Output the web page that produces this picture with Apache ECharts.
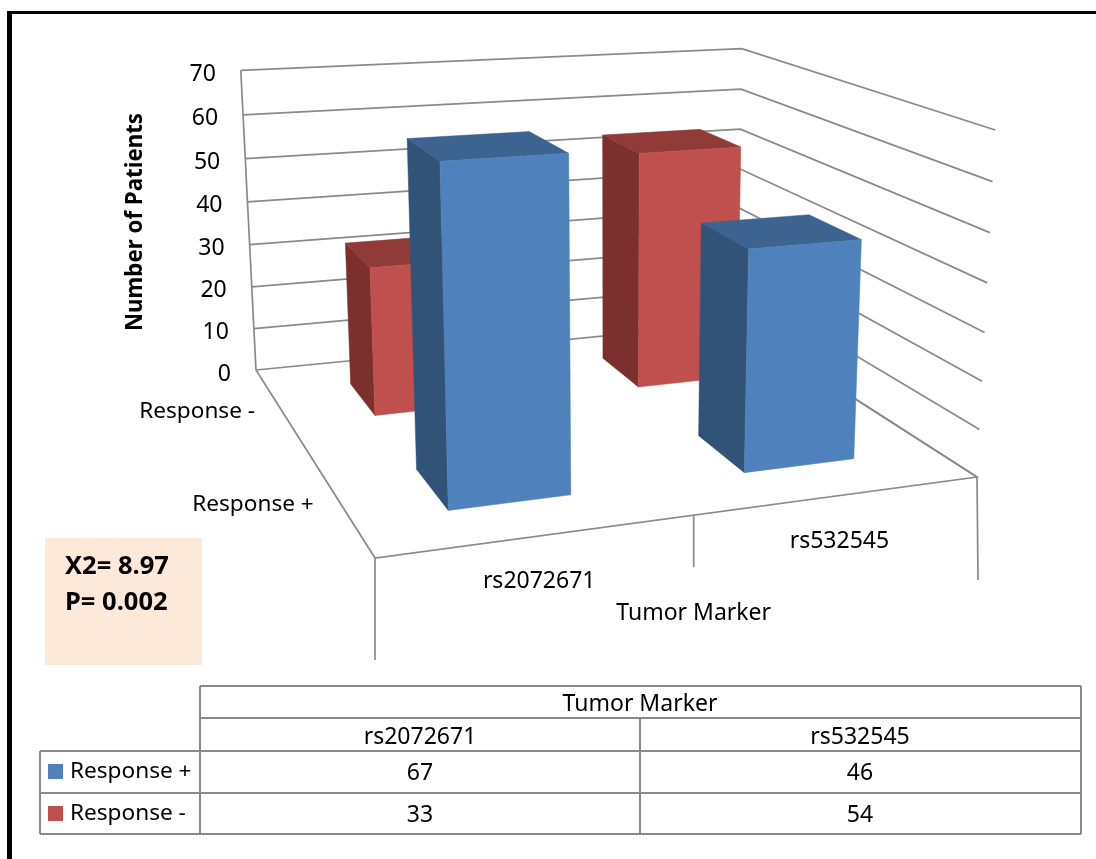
<!DOCTYPE html>
<html>
<head>
<meta charset="utf-8">
<title>Tumor Marker</title>
<style>
html,body{margin:0;padding:0;background:#fff;}
#main{width:1096px;height:859px;}
</style>
<script src="https://cdn.jsdelivr.net/npm/echarts@6/dist/echarts.min.js"></script>
</head>
<body>
<div id="main"></div>
<script>
var categories=["rs2072671","rs532545"];
var responsePlus=[67,46];
var responseMinus=[33,54];
var valueTicks=[0,10,20,30,40,50,60,70];
var rowNames=["Response -","Response +"];//back row first

var fontName='"Noto Sans",sans-serif';
var gridColor="#8a8a8a";
var gapRatio=0.4;//bar width as a part of its band (excel gap width 150%)

//camera of the 3d box, u: left to right, v: front to back, z: floor to top
var cam={a:724.1,b:-38.64,c:375,d:-21.39,e:-71.85,f:558,g:0.12497,h:0.31392,t:-0.0537,px:613,py:7400};
function project(u,v,z){
	var w=cam.g*u+cam.h*v+1+cam.t*z;
	return [
		(cam.a*u+cam.b*v+cam.c+cam.px*cam.t*z)/w,
		(cam.d*u+cam.e*v+cam.f+cam.py*cam.t*z)/w
	];
}
//height of a value on the hidden value axis, 0 to 1
function valueToZ(params,api,value){
	var box=params.coordSys;
	return (box.y+box.height-api.coord([0,value])[1])/box.height;
}
function face(points,color){
	return {type:"polygon",shape:{points:points},style:{fill:color,stroke:color,lineWidth:0.5}};
}
function line(points){
	return {type:"polyline",shape:{points:points},style:{fill:null,stroke:gridColor,lineWidth:1.7}};
}
function label(text,x,y,align,size,weight){
	return {type:"text",x:x,y:y,style:{text:text,fill:"#000",font:(weight||"normal")+" "+size+"px "+fontName,textAlign:align,textVerticalAlign:"middle"}};
}

//one row of bars, the row is placed in the depth like a band of a category axis
function barRenderer(rowIndex,colors){
	return function(params,api){
		var box=params.coordSys;
		var band=api.size([1,0])[0];
		var center=(api.coord([api.value(0),0])[0]-box.x)/box.width;
		var half=band/box.width*gapRatio/2;
		var rowBand=1/rowNames.length;
		var rowCenter=1-(rowIndex+0.5)*rowBand;
		var rowHalf=rowBand*gapRatio/2;
		var z=valueToZ(params,api,api.value(1));
		var u0=center-half,u1=center+half,v0=rowCenter-rowHalf,v1=rowCenter+rowHalf;
		return {type:"group",children:[
			face([project(u0,v1,0),project(u0,v0,0),project(u0,v0,z),project(u0,v1,z)],colors.side),
			face([project(u0,v0,z),project(u1,v0,z),project(u1,v1,z),project(u0,v1,z)],colors.top),
			face([project(u0,v0,0),project(u1,v0,0),project(u1,v0,z),project(u0,v0,z)],colors.front)
		]};
	};
}
//gridlines of the back and right walls with the value labels
function renderTick(params,api){
	var tick=api.value(1);
	var z=valueToZ(params,api,tick);
	var left=project(0,1,z);
	return {type:"group",children:[
		line([left,project(1,1,z),project(1,0,z)]),
		label(String(tick),left[0]-25,left[1]+4,"right",23)
	]};
}
//floor edges, left wall edge, drop lines and the labels that hang on them
function renderFloor(params,api){
	var children=[];
	children.push(line([project(0,1,1),project(0,1,0),project(0,0,0),project(1,0,0),project(1,1,0)]));
	var mid=project(0.5,0,0);
	var a=project(0,0,0),b=project(1,0,0);
	children.push(line([a,[a[0],a[1]+102]]));
	children.push(line([mid,[mid[0],mid[1]+52]]));
	children.push(line([b,[b[0]+1,b[1]+103]]));
	for(var i=0;i<categories.length;i++){
		var p=project((i+0.5)/categories.length,0,0);
		children.push(label(categories[i],p[0],p[1]+46,"center",23));
	}
	children.push(label("Tumor Marker",mid[0],mid[1]+98,"center",23));
	for(var r=0;r<rowNames.length;r++){
		var v=1-(r+0.5)/rowNames.length;
		var q=project(0,v,0);
		children.push(label(rowNames[r],q[0]-25,q[1]+4,"right",22.6));
	}
	return {type:"group",children:children};
}

//fixed page parts: frame, note box and the data table
function hLine(x1,x2,y){
	return {type:"line",shape:{x1:x1,y1:y,x2:x2,y2:y},style:{stroke:gridColor,lineWidth:2}};
}
function vLine(x,y1,y2){
	return {type:"line",shape:{x1:x,y1:y1,x2:x,y2:y2},style:{stroke:gridColor,lineWidth:2}};
}
function square(x,y,color){
	return {type:"rect",shape:{x:x,y:y,width:15,height:15},style:{fill:color}};
}
function buildGraphic(){
	var list=[
		{type:"rect",shape:{x:7,y:11,width:1089,height:3},style:{fill:"#000"}},
		{type:"rect",shape:{x:7,y:11,width:5,height:848},style:{fill:"#000"}},
		{type:"rect",shape:{x:45,y:538,width:157,height:127},style:{fill:"#fde9d9"}},
		label("X2= 8.97",65,567,"left",25.5,"bold"),
		label("P= 0.002",65,603,"left",25.5,"bold"),
		hLine(200,1081,686),hLine(200,1081,718),hLine(40,1081,751),hLine(40,1081,793),hLine(40,1081,834),
		vLine(40,751,834),vLine(200,686,834),vLine(640,718,834),vLine(1081,686,834),
		label("Tumor Marker",640,704,"center",23),
		square(48,764,"#4f81bd"),square(48,806,"#c0504d"),
		label("Response +",70,772,"left",22.6),
		label("Response -",70,814,"left",22.6)
	];
	var columns=[420,860];
	for(var i=0;i<categories.length;i++){
		list.push(label(categories[i],columns[i],737,"center",23));
		list.push(label(String(responsePlus[i]),columns[i],773,"center",23));
		list.push(label(String(responseMinus[i]),columns[i],815,"center",23));
	}
	return list;
}

function toRows(values){
	var rows=[];
	for(var i=0;i<values.length;i++){
		rows.push([i,values[i]]);
	}
	return rows;
}
var tickRows=[];
for(var t=0;t<valueTicks.length;t++){
	tickRows.push([0,valueTicks[t]]);
}

var myChart=echarts.init(document.getElementById("main"),null,{renderer:"canvas"});
myChart.setOption({
	animation:false,
	backgroundColor:"#fff",
	grid:{left:241,top:71,width:500,height:300},
	xAxis:{type:"category",data:categories,show:false},
	yAxis:{type:"value",min:0,max:70,interval:10,show:false,
		name:"Number of Patients"},
	graphic:{elements:buildGraphic().concat([
		{type:"text",x:136,y:222,rotation:Math.PI/2,style:{text:"Number of Patients",fill:"#000",
			font:"bold 22.3px "+fontName,textAlign:"center",textVerticalAlign:"middle"}}
	])},
	series:[
		{type:"custom",name:"floor",data:[[0,0]],encode:{x:0,y:1},renderItem:renderFloor,silent:true,z:1},
		{type:"custom",name:"ticks",data:tickRows,encode:{x:0,y:1},renderItem:renderTick,silent:true,z:1},
		{type:"custom",name:rowNames[0],data:toRows(responseMinus),encode:{x:0,y:1},z:2,
			renderItem:barRenderer(0,{front:"#c0504d",top:"#913b39",side:"#7b302e"})},
		{type:"custom",name:rowNames[1],data:toRows(responsePlus),encode:{x:0,y:1},z:3,
			renderItem:barRenderer(1,{front:"#4f81bd",top:"#3d6390",side:"#325378"})}
	]
});
</script>
</body>
</html>
